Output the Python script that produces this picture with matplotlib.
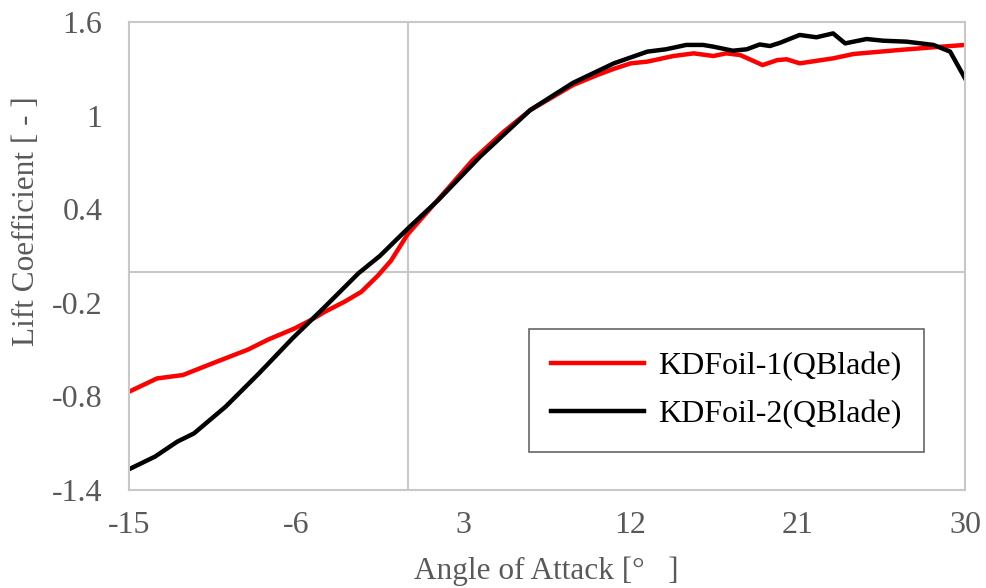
import numpy as np
import matplotlib.pyplot as plt

plt.rcParams['font.family'] = ['Liberation Serif', 'DejaVu Serif']

# lift curves from QBlade, angle of attack in degrees
aoa_1 = [-15, -13.5, -12.1, -10.55, -8.6, -7.5, -6.1, -5.2, -4.45, -3.4, -2.5, -1.6,
         -0.9, 0.0, 1.7, 3.5, 5.15, 6.6, 8.9, 10.2, 11.1, 12.0, 12.9, 14.3, 15.4,
         16.45, 17.15, 17.9, 19.1, 19.9, 20.4, 21.1, 22.9, 24.0, 26.5, 28.3, 30.0]
cl_1 = [-0.77, -0.685, -0.663, -0.59, -0.50, -0.435, -0.365, -0.31, -0.257, -0.193,
        -0.13, -0.025, 0.07, 0.24, 0.47, 0.715, 0.895, 1.035, 1.196, 1.26, 1.30,
        1.335, 1.346, 1.382, 1.399, 1.382, 1.399, 1.388, 1.324, 1.356, 1.361, 1.335,
        1.367, 1.395, 1.421, 1.438, 1.453]

aoa_2 = [-15, -13.6, -12.4, -11.5, -9.8, -8.0, -6.2, -4.45, -2.65, -1.5, 0.0, 1.65,
         3.9, 6.6, 8.9, 11.1, 12.9, 13.9, 15.0, 15.9, 16.45, 17.5, 18.25, 18.95, 19.5,
         20.05, 21.1, 22.0, 22.9, 23.55, 24.7, 25.6, 26.85, 28.3, 29.2, 30.0]
cl_2 = [-1.267, -1.186, -1.09, -1.037, -0.866, -0.652, -0.428, -0.225, -0.011, 0.10,
        0.275, 0.459, 0.737, 1.036, 1.21, 1.335, 1.41, 1.425, 1.453, 1.453, 1.442,
        1.416, 1.425, 1.456, 1.446, 1.467, 1.517, 1.502, 1.527, 1.463, 1.491, 1.48,
        1.474, 1.453, 1.41, 1.239]

labels = ['KDFoil-1(QBlade)', 'KDFoil-2(QBlade)']
xticks = [-15, -6, 3, 12, 21, 30]
yticks = [-1.4, -0.8, -0.2, 0.4, 1, 1.6]

gray = '#c8c8c8'
txt = '#595959'

fig = plt.figure(figsize=(9.87, 5.88), dpi=100)
ax = fig.add_axes([129/987, 1 - 490/588, 836/987, 468/588])

ax.plot(aoa_1, cl_1, color='#ff0000', lw=3.2, label=labels[0])
ax.plot(aoa_2, cl_2, color='black', lw=3.2, label=labels[1])

ax.axhline(0, color=gray, lw=1.5, zorder=0)
ax.axvline(0, color=gray, lw=1.5, zorder=0)

ax.set_xlim(-15, 30)
ax.set_ylim(-1.4, 1.6)
ax.set_xticks(xticks)
ax.set_xticklabels([str(t) for t in xticks])
ax.set_yticks(yticks)
ax.set_yticklabels([('%g' % t) for t in yticks])
ax.tick_params(length=0, labelsize=23, labelcolor=txt)
ax.tick_params(axis='y', pad=19)
ax.tick_params(axis='x', pad=15)
for s in ax.spines.values():
    s.set_color(gray)
    s.set_linewidth(1.5)

fig.text(546/987, 1 - 571/588, 'Angle of Attack [°   ]', ha='center', va='center',
         fontsize=22.5, color=txt)
fig.text(27/987, 1 - 221/588, 'Lift Coefficient [ - ]', ha='center', va='center',
         rotation=90, fontsize=22.5, color=txt)

leg = ax.legend(loc='lower left', bbox_to_anchor=(529/987, 1 - 452/588),
                bbox_transform=fig.transFigure, fontsize=23, frameon=True,
                fancybox=False, handlelength=2.9, handletextpad=0.45,
                labelspacing=0.6, borderpad=0.7, borderaxespad=0)
leg.get_frame().set_edgecolor('#404040')
leg.get_frame().set_linewidth(1.2)

fig.savefig('out.png', dpi=100)
